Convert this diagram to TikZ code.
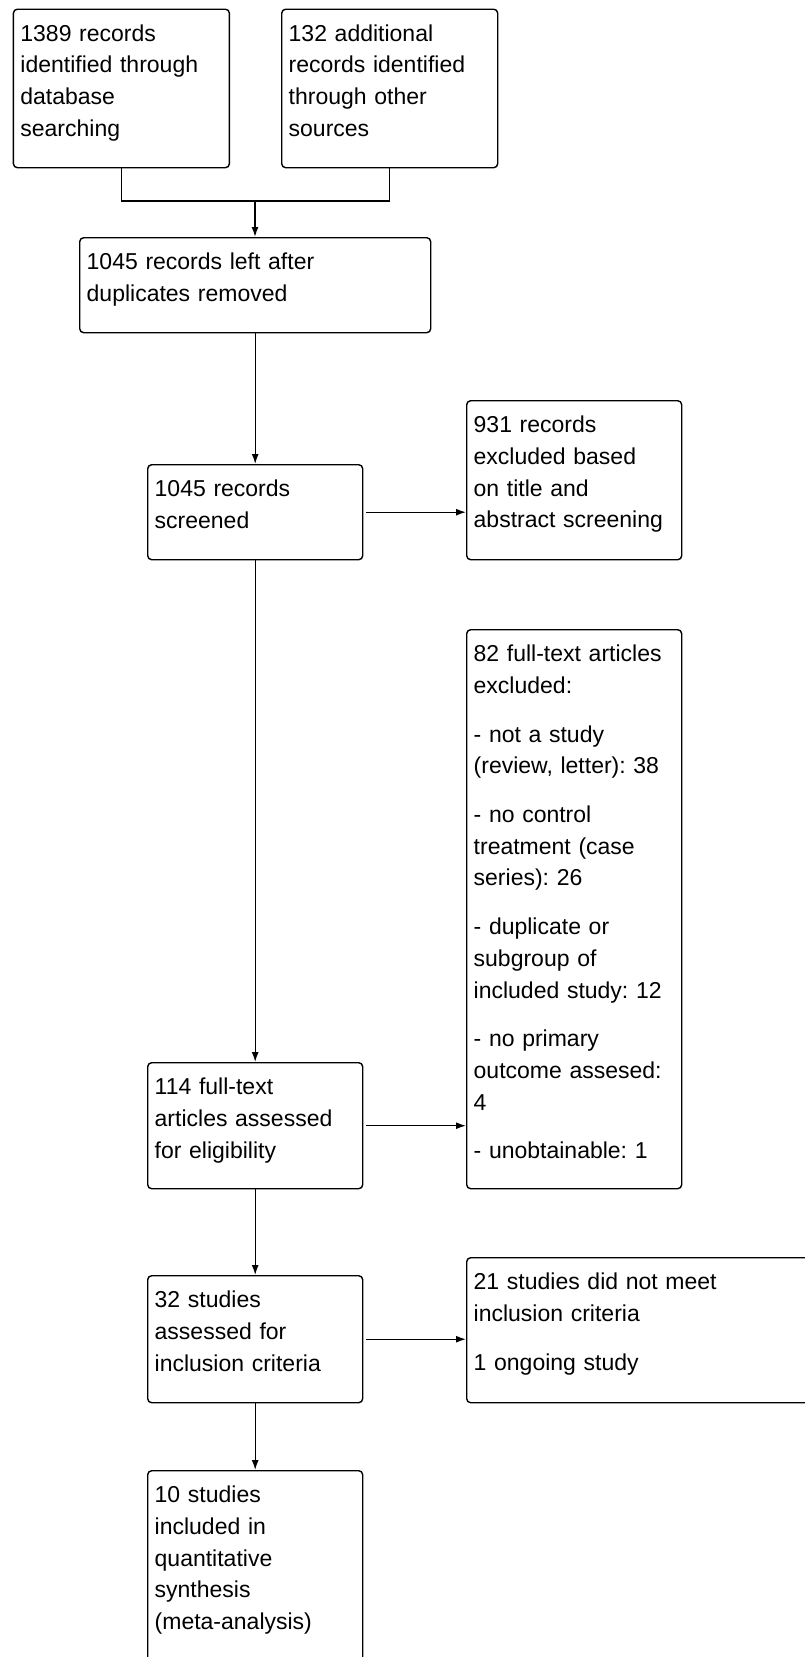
\documentclass[tikz,border=0pt]{standalone}
\usepackage{fontspec}
\setmainfont{Liberation Sans}
\usetikzlibrary{arrows.meta}
\frenchspacing

\tikzset{
  flowbox/.style={draw, line width=1.4pt, rounded corners=4pt, anchor=north west,
    align=left, inner xsep=7pt, inner ysep=0pt, text height=32pt,
    font=\fontsize{23}{31.7}\selectfont},
  flowarrow/.style={line width=1.4pt, -{Latex[length=10pt,width=7pt]}},
}

\begin{document}
\begin{tikzpicture}[x=1pt, y=-1pt]
\useasboundingbox (0,0) rectangle (805,1657);
% identification
\node[flowbox, text width=202pt, text depth=126.5pt] (ident) at (12.7,8.5) {1389 records\\identified through\\database\\searching};
\node[flowbox, text width=202pt, text depth=126.5pt] (other) at (281,8.5) {132 additional\\records identified\\through other\\sources};
\node[flowbox, text width=337pt, text depth=63pt] (dedup) at (79,237) {1045 records left after\\duplicates removed};
% screening
\node[flowbox, text width=201pt, text depth=63pt] (screen) at (147,464) {1045 records\\screened};
\node[flowbox, text width=201pt, text depth=127pt] (excl) at (466,400) {931 records\\excluded based\\on title and\\abstract screening};
% eligibility
\node[flowbox, text width=201pt, text depth=527pt] (ftexcl) at (466,629) {82 full-text articles\\excluded:\\[17pt]- not a study\\(review, letter): 38\\[17pt]- no control\\treatment (case\\series): 26\\[17pt]- duplicate or\\subgroup of\\included study: 12\\[17pt]- no primary\\outcome assesed:\\4\\[17pt]- unobtainable: 1};
\node[flowbox, text width=201pt, text depth=94pt] (elig) at (147,1062) {114 full-text\\articles assessed\\for eligibility};
\node[flowbox, text width=201pt, text depth=95pt] (crit) at (147,1275) {32 studies\\assessed for\\inclusion criteria};
\node[flowbox, text width=350pt, text depth=113pt] (notmet) at (466,1257) {21 studies did not meet\\inclusion criteria\\[17pt]1 ongoing study};
% included
\node[flowbox, text width=201pt, text depth=220pt] (incl) at (147,1470) {10 studies\\included in\\quantitative\\synthesis\\(meta-analysis)};

\coordinate (join) at (255,201);
\draw[line width=1.4pt] (ident.south) |- (join) -| (other.south);
\draw[flowarrow] (join) -- (join |- dedup.north);
\draw[flowarrow] (dedup.south) -- (screen.north);
\draw[flowarrow, shorten <=3pt] (screen.east) -- (excl.west |- screen.east);
\draw[flowarrow] (screen.south) -- (elig.north);
\draw[flowarrow, shorten <=3pt] (elig.east) -- (ftexcl.west |- elig.east);
\draw[flowarrow] (elig.south) -- (crit.north);
\draw[flowarrow, shorten <=3pt] (crit.east) -- (notmet.west |- crit.east);
\draw[flowarrow] (crit.south) -- (incl.north);
\end{tikzpicture}
\end{document}
